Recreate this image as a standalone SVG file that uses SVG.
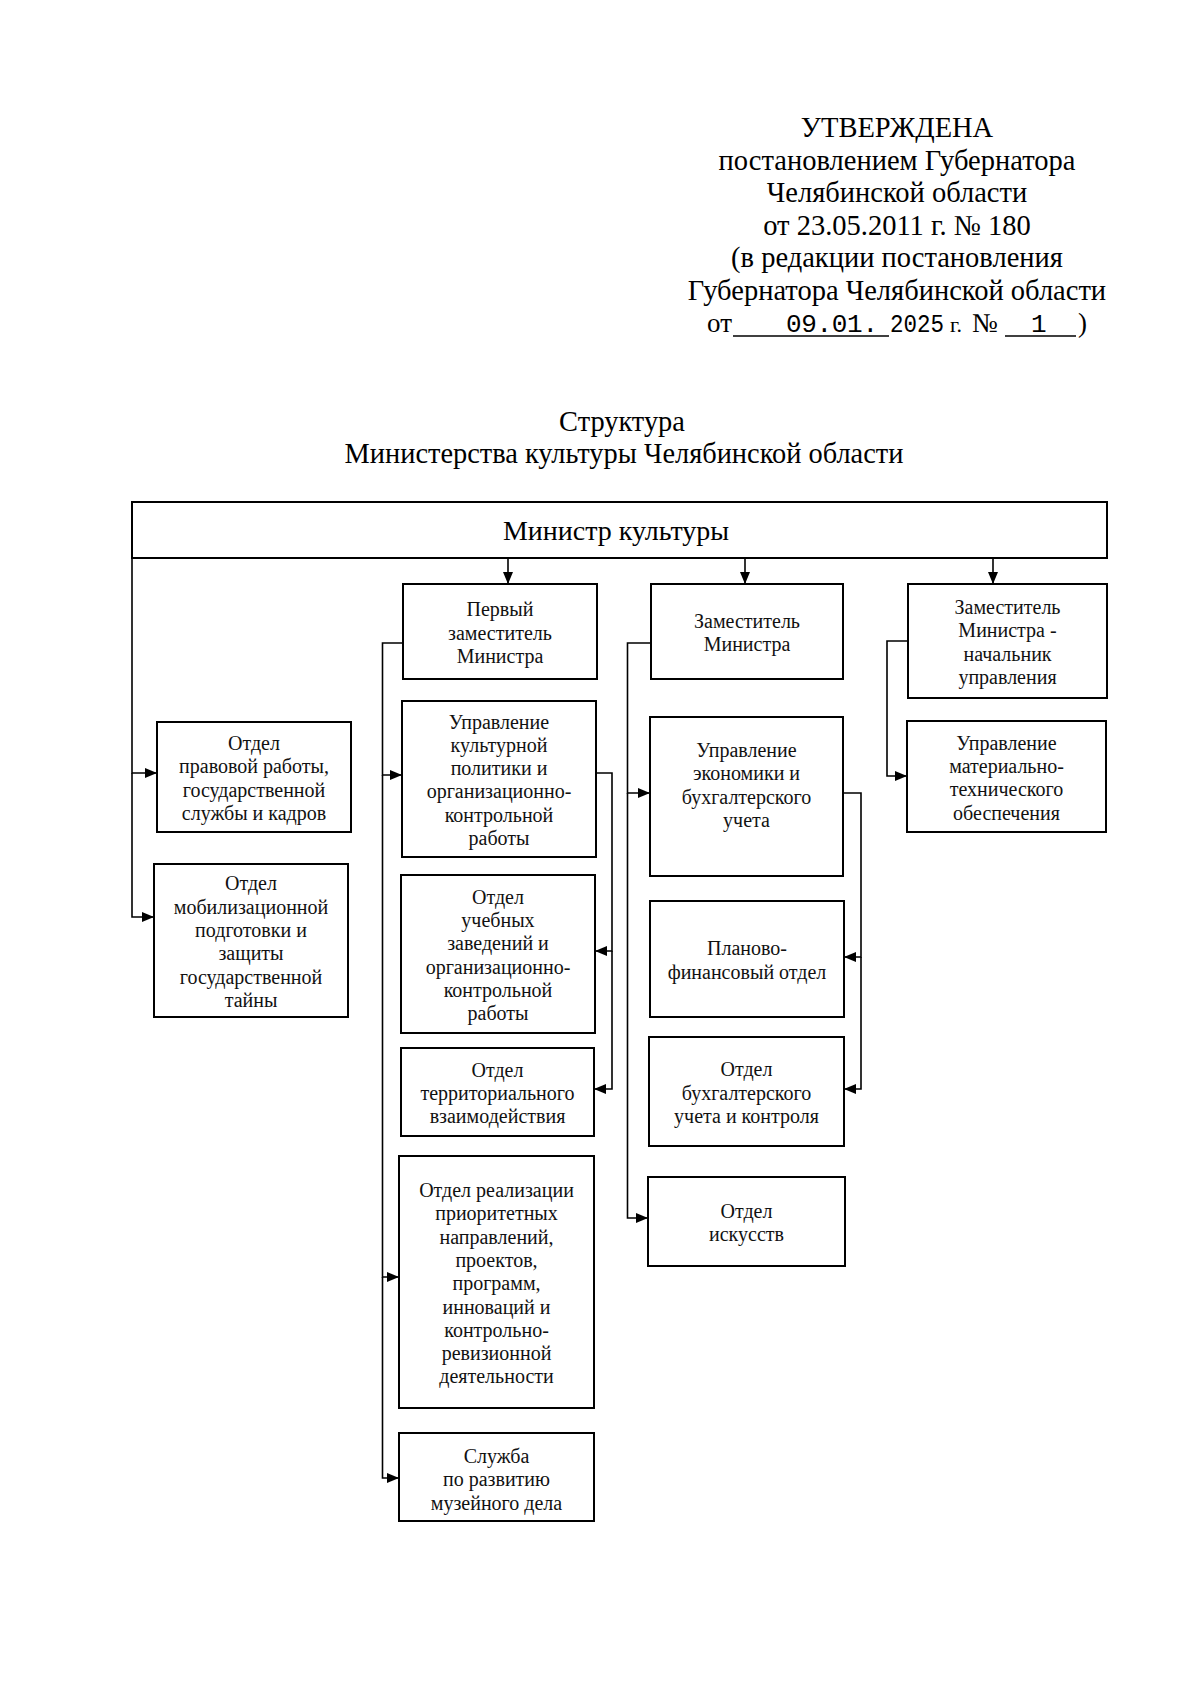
<svg xmlns="http://www.w3.org/2000/svg" width="1200" height="1698" viewBox="0 0 1200 1698">
<style>
.h{font-family:"Liberation Serif","Times New Roman",serif;font-size:28.5px;fill:#000;text-anchor:middle}
.hs{font-family:"Liberation Serif","Times New Roman",serif;font-size:27px;fill:#000}
.m{font-family:"Liberation Mono","Courier New",monospace;font-size:26px;fill:#000}
.ti{font-family:"Liberation Serif","Times New Roman",serif;font-size:28.4px;fill:#000;text-anchor:middle}
.b{fill:#fff;stroke:#000;stroke-width:2}
.t{font-family:"Liberation Serif","Times New Roman",serif;font-size:20px;fill:#111;text-anchor:middle}
.c{fill:none;stroke:#000;stroke-width:1.6}
.u{stroke:#000;stroke-width:1.4}
</style>
<defs>
<marker id="a" markerWidth="12" markerHeight="10" refX="12" refY="5" orient="auto" markerUnits="userSpaceOnUse"><path d="M0,0 L12,5 L0,10 z" fill="#000"/></marker>
</defs>
<rect width="1200" height="1698" fill="#fff"/>

<g id="header">
<text class="h" x="897" y="137">УТВЕРЖДЕНА</text>
<text class="h" x="897" y="169.5">постановлением Губернатора</text>
<text class="h" x="897" y="202">Челябинской области</text>
<text class="h" x="897" y="234.5">от 23.05.2011 г. № 180</text>
<text class="h" x="897" y="267">(в редакции постановления</text>
<text class="h" x="897" y="299.5">Губернатора Челябинской области</text>
<text class="hs" x="707" y="332">от</text>
<line class="u" x1="733" y1="336" x2="889" y2="336"/>
<text class="m" x="786" y="332" textLength="92">09.01.</text>
<text class="m" x="890" y="332" textLength="54" lengthAdjust="spacingAndGlyphs">2025</text>
<text class="hs" x="950" y="332" style="font-size:22px">г.</text>
<text class="hs" x="972" y="332">№</text>
<line class="u" x1="1005" y1="336" x2="1076" y2="336"/>
<text class="m" x="1031" y="332">1</text>
<text class="hs" x="1078" y="332">)</text>
</g>

<g id="title">
<text class="ti" x="622" y="431">Структура</text>
<text class="ti" x="624" y="463">Министерства культуры Челябинской области</text>
</g>

<g id="connectors">
<path class="c" d="M132,558 V773 H157" marker-end="url(#a)"/>
<path class="c" d="M132,773 V917 H154" marker-end="url(#a)"/>
<path class="c" d="M508,558 V584" marker-end="url(#a)"/>
<path class="c" d="M745,558 V584" marker-end="url(#a)"/>
<path class="c" d="M993,558 V584" marker-end="url(#a)"/>
<path class="c" d="M403,643 H382.5 V775 H402" marker-end="url(#a)"/>
<path class="c" d="M382.5,775 V1277 H399" marker-end="url(#a)"/>
<path class="c" d="M382.5,1277 V1478 H399" marker-end="url(#a)"/>
<path class="c" d="M596,773 H612 V951 H595" marker-end="url(#a)"/>
<path class="c" d="M612,951 V1089 H594" marker-end="url(#a)"/>
<path class="c" d="M651,643 H627.5 V793 H650" marker-end="url(#a)"/>
<path class="c" d="M627.5,793 V1218 H648" marker-end="url(#a)"/>
<path class="c" d="M843,793 H861 V957 H844" marker-end="url(#a)"/>
<path class="c" d="M861,957 V1089 H844" marker-end="url(#a)"/>
<path class="c" d="M908,641 H887 V776 H907" marker-end="url(#a)"/>
</g>

<g id="minister">
<rect class="b" x="132" y="502" width="975" height="56"/>
<text class="ti" x="616" y="540" style="font-size:28px">Министр культуры</text>
</g>

<g id="first-deputy">
<rect class="b" x="403" y="584" width="194" height="95"/>
<text class="t" x="500" y="616.2">Первый<tspan x="500" dy="23.3">заместитель</tspan><tspan x="500" dy="23.3">Министра</tspan></text>
</g>

<g id="deputy">
<rect class="b" x="651" y="584" width="192" height="95"/>
<text class="t" x="747" y="627.9">Заместитель<tspan x="747" dy="23.3">Министра</tspan></text>
</g>

<g id="deputy-head">
<rect class="b" x="908" y="584" width="199" height="114"/>
<text class="t" x="1007.5" y="614">Заместитель<tspan x="1007.5" dy="23.3">Министра -</tspan><tspan x="1007.5" dy="23.3">начальник</tspan><tspan x="1007.5" dy="23.3">управления</tspan></text>
</g>

<g id="legal">
<rect class="b" x="157" y="722" width="194" height="110"/>
<text class="t" x="254" y="750">Отдел<tspan x="254" dy="23.3">правовой работы,</tspan><tspan x="254" dy="23.3">государственной</tspan><tspan x="254" dy="23.3">службы и кадров</tspan></text>
</g>

<g id="mobilization">
<rect class="b" x="154" y="864" width="194" height="153"/>
<text class="t" x="251" y="890.3">Отдел<tspan x="251" dy="23.3">мобилизационной</tspan><tspan x="251" dy="23.3">подготовки и</tspan><tspan x="251" dy="23.3">защиты</tspan><tspan x="251" dy="23.3">государственной</tspan><tspan x="251" dy="23.3">тайны</tspan></text>
</g>

<g id="culture-policy">
<rect class="b" x="402" y="701" width="194" height="156"/>
<text class="t" x="499" y="728.5">Управление<tspan x="499" dy="23.3">культурной</tspan><tspan x="499" dy="23.3">политики и</tspan><tspan x="499" dy="23.3">организационно-</tspan><tspan x="499" dy="23.3">контрольной</tspan><tspan x="499" dy="23.3">работы</tspan></text>
</g>

<g id="education">
<rect class="b" x="401" y="875" width="194" height="158"/>
<text class="t" x="498" y="903.7">Отдел<tspan x="498" dy="23.3">учебных</tspan><tspan x="498" dy="23.3">заведений и</tspan><tspan x="498" dy="23.3">организационно-</tspan><tspan x="498" dy="23.3">контрольной</tspan><tspan x="498" dy="23.3">работы</tspan></text>
</g>

<g id="territorial">
<rect class="b" x="401" y="1048" width="193" height="88"/>
<text class="t" x="497.5" y="1076.7">Отдел<tspan x="497.5" dy="23.3">территориального</tspan><tspan x="497.5" dy="23.3">взаимодействия</tspan></text>
</g>

<g id="priority">
<rect class="b" x="399" y="1156" width="195" height="252"/>
<text class="t" x="496.5" y="1197">Отдел реализации<tspan x="496.5" dy="23.3">приоритетных</tspan><tspan x="496.5" dy="23.3">направлений,</tspan><tspan x="496.5" dy="23.3">проектов,</tspan><tspan x="496.5" dy="23.3">программ,</tspan><tspan x="496.5" dy="23.3">инноваций и</tspan><tspan x="496.5" dy="23.3">контрольно-</tspan><tspan x="496.5" dy="23.3">ревизионной</tspan><tspan x="496.5" dy="23.3">деятельности</tspan></text>
</g>

<g id="museum">
<rect class="b" x="399" y="1433" width="195" height="88"/>
<text class="t" x="496.5" y="1463">Служба<tspan x="496.5" dy="23.3">по развитию</tspan><tspan x="496.5" dy="23.3">музейного дела</tspan></text>
</g>

<g id="economy">
<rect class="b" x="650" y="717" width="193" height="159"/>
<text class="t" x="746.5" y="757">Управление<tspan x="746.5" dy="23.3">экономики и</tspan><tspan x="746.5" dy="23.3">бухгалтерского</tspan><tspan x="746.5" dy="23.3">учета</tspan></text>
</g>

<g id="planning">
<rect class="b" x="650" y="901" width="194" height="116"/>
<text class="t" x="747" y="955.4">Планово-<tspan x="747" dy="23.3">финансовый отдел</tspan></text>
</g>

<g id="accounting">
<rect class="b" x="649" y="1037" width="195" height="109"/>
<text class="t" x="746.5" y="1076.2">Отдел<tspan x="746.5" dy="23.3">бухгалтерского</tspan><tspan x="746.5" dy="23.3">учета и контроля</tspan></text>
</g>

<g id="arts">
<rect class="b" x="648" y="1177" width="197" height="89"/>
<text class="t" x="746.5" y="1218">Отдел<tspan x="746.5" dy="23.3">искусств</tspan></text>
</g>

<g id="logistics">
<rect class="b" x="907" y="721" width="199" height="111"/>
<text class="t" x="1006.5" y="749.6">Управление<tspan x="1006.5" dy="23.3">материально-</tspan><tspan x="1006.5" dy="23.3">технического</tspan><tspan x="1006.5" dy="23.3">обеспечения</tspan></text>
</g>
</svg>
